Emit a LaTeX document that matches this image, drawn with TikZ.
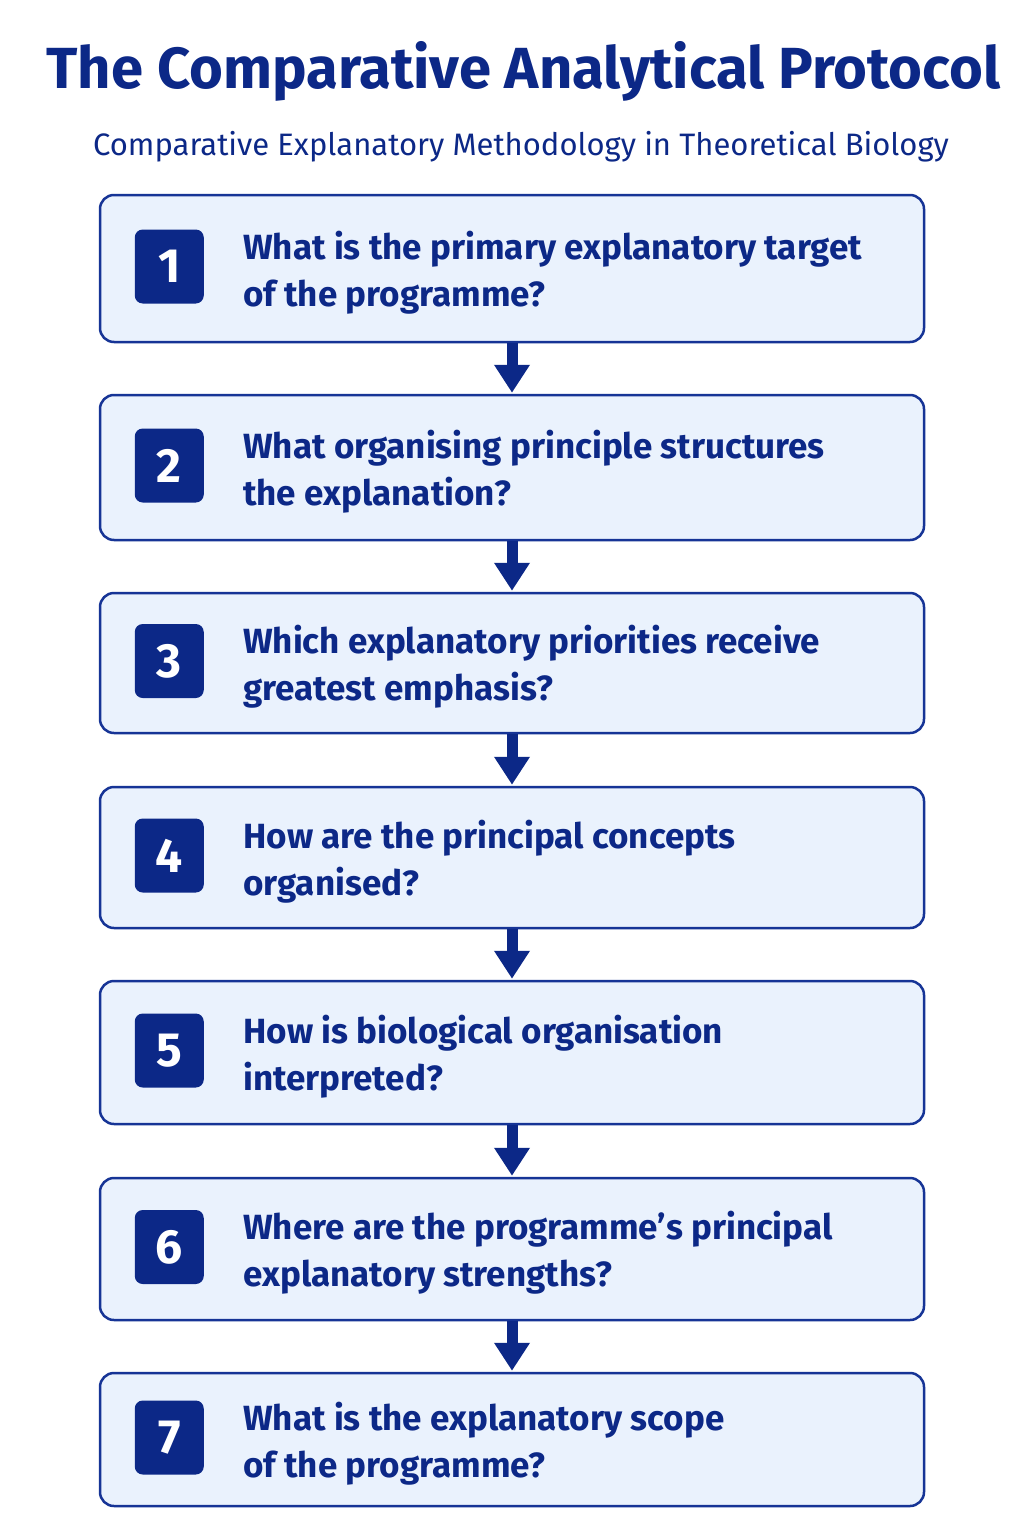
\documentclass[tikz,border=0pt]{standalone}
\usepackage{fontspec}
\setmainfont{Fira Sans}
\usetikzlibrary{positioning,arrows.meta}
\definecolor{navy}{RGB}{12,40,135}
\definecolor{boxline}{RGB}{22,52,150}
\definecolor{boxfill}{RGB}{234,242,253}
\tikzset{
  qbox/.style={draw=boxline, line width=2.5pt, fill=boxfill, rounded corners=14pt, minimum width=824pt},
  badge/.style={fill=navy, rounded corners=8pt, minimum width=69pt, minimum height=74pt, text=white, font=\fontsize{48}{48}\selectfont\bfseries},
  qtext/.style={anchor=west, text=navy, align=left, font=\fontsize{35}{47}\selectfont\bfseries},
  flow/.style={-{Triangle[width=34pt,length=28pt]}, line width=11pt, draw=navy, shorten >=1pt}
}
\begin{document}
\begin{tikzpicture}[x=1pt,y=-1pt]
			%%%%% START %%%%%
			
			\fill[white] (0,0) rectangle (1024,1536);
			\useasboundingbox (0,0) rectangle (1024,1536);
			
			\node[text=navy, font=\fontsize{58}{58}\selectfont\bfseries] (title) at (523.5,71) {The Comparative Analytical Protocol};
			\node[text=navy, font=\fontsize{31}{31}\selectfont] (subtitle) at (521,147) {Comparative Explanatory Methodology in Theoretical Biology};
			
			\node[qbox, minimum height=147pt] (b1) at (512,268.5) {};
			\node[qbox, minimum height=145pt] (b2) at (512,467.5) {};
			\node[qbox, minimum height=140pt] (b3) at (512,663) {};
			\node[qbox, minimum height=141pt] (b4) at (512,857.5) {};
			\node[qbox, minimum height=143pt] (b5) at (512,1052.5) {};
			\node[qbox, minimum height=142pt] (b6) at (512,1249) {};
			\node[qbox, minimum height=133pt] (b7) at (512,1439.5) {};
			
			\node[badge] (n1) at ([xshift=70.5pt,yshift=2pt]b1.west) {1};
			\node[badge] (n2) at ([xshift=70.5pt,yshift=2pt]b2.west) {2};
			\node[badge] (n3) at ([xshift=70.5pt,yshift=2pt]b3.west) {3};
			\node[badge] (n4) at ([xshift=70.5pt,yshift=2pt]b4.west) {4};
			\node[badge] (n5) at ([xshift=70.5pt,yshift=2pt]b5.west) {5};
			\node[badge] (n6) at ([xshift=70.5pt,yshift=2pt]b6.west) {6};
			\node[badge] (n7) at ([xshift=70.5pt,yshift=2pt]b7.west) {7};
			
			\node[qtext] (t1) at ([xshift=141pt,yshift=-4pt]b1.west) {What is the primary explanatory target\\of the programme?};
			\node[qtext] (t2) at ([xshift=141pt,yshift=-4pt]b2.west) {What organising principle structures\\the explanation?};
			\node[qtext] (t3) at ([xshift=141pt,yshift=-4pt]b3.west) {Which explanatory priorities receive\\greatest emphasis?};
			\node[qtext] (t4) at ([xshift=141pt,yshift=-4pt]b4.west) {How are the principal concepts\\organised?};
			\node[qtext] (t5) at ([xshift=141pt,yshift=-4pt]b5.west) {How is biological organisation\\interpreted?};
			\node[qtext] (t6) at ([xshift=141pt,yshift=-4pt]b6.west) {Where are the programme’s principal\\explanatory strengths?};
			\node[qtext] (t7) at ([xshift=141pt,yshift=-4pt]b7.west) {What is the explanatory scope\\of the programme?};
			
			\draw[flow] (b1.south) -- (b2.north);
			\draw[flow] (b2.south) -- (b3.north);
			\draw[flow] (b3.south) -- (b4.north);
			\draw[flow] (b4.south) -- (b5.north);
			\draw[flow] (b5.south) -- (b6.north);
			\draw[flow] (b6.south) -- (b7.north);
			
			%%%%% END %%%%%
\end{tikzpicture}
\end{document}
